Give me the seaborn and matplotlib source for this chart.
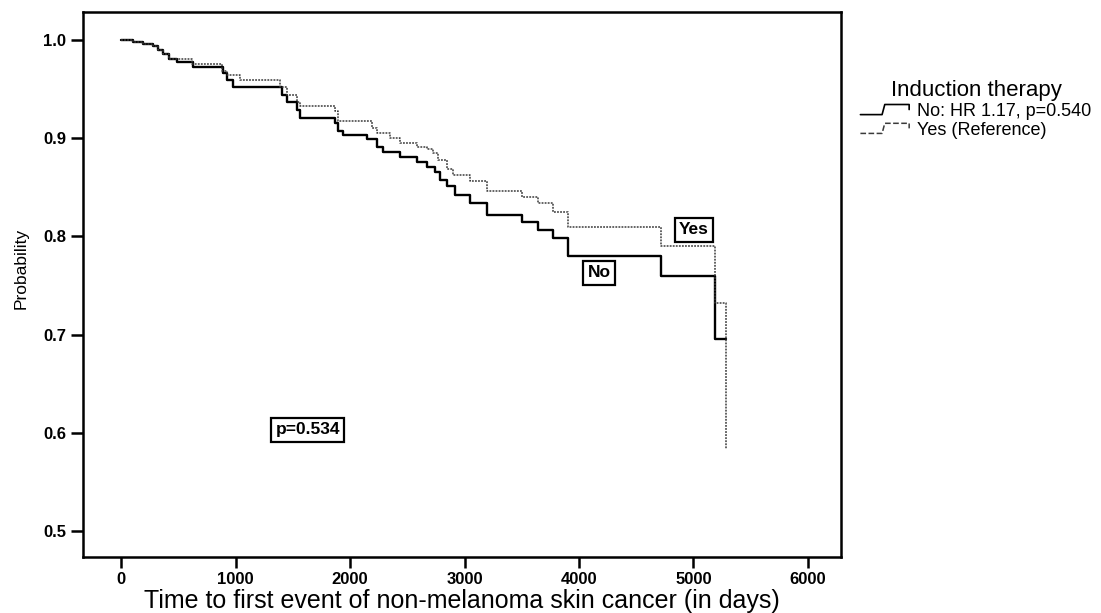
import numpy as np
import pandas as pd
import matplotlib
matplotlib.use('Agg')
import matplotlib.pyplot as plt
import seaborn as sns
from matplotlib.legend_handler import HandlerBase
from matplotlib.lines import Line2D

# Kaplan-Meier steps: day of the drop, survival after it
no_days = [0, 108, 195, 282, 326, 370, 420, 486, 632, 894, 923, 981, 1403, 1447,
           1534, 1563, 1869, 1898, 1942, 2146, 2233, 2291, 2437, 2582, 2670, 2742,
           2786, 2844, 2917, 3048, 3194, 3500, 3645, 3776, 3904, 4716, 5188, 5284]
no_surv = [1.000, 0.998, 0.996, 0.994, 0.990, 0.986, 0.981, 0.978, 0.973, 0.966,
           0.959, 0.952, 0.944, 0.937, 0.929, 0.921, 0.915, 0.907, 0.903, 0.899,
           0.891, 0.886, 0.881, 0.876, 0.871, 0.866, 0.857, 0.851, 0.842, 0.834,
           0.822, 0.815, 0.807, 0.798, 0.780, 0.760, 0.695, 0.695]

yes_days = [0, 108, 195, 282, 326, 370, 420, 617, 880, 923, 1040, 1389, 1447, 1534,
            1563, 1869, 1898, 2189, 2233, 2349, 2437, 2582, 2670, 2728, 2771, 2844,
            2902, 3048, 3194, 3500, 3645, 3776, 3904, 4716, 5188, 5284]
yes_surv = [1.000, 0.998, 0.996, 0.994, 0.990, 0.986, 0.981, 0.976, 0.968, 0.964,
            0.959, 0.952, 0.944, 0.937, 0.933, 0.928, 0.918, 0.910, 0.905, 0.900,
            0.895, 0.891, 0.889, 0.885, 0.878, 0.869, 0.863, 0.856, 0.846, 0.840,
            0.834, 0.825, 0.810, 0.790, 0.732, 0.583]

legend_labels = ['No: HR 1.17, p=0.540', 'Yes (Reference)']
x_ticks = [0, 1000, 2000, 3000, 4000, 5000, 6000]
y_ticks = [0.5, 0.6, 0.7, 0.8, 0.9, 1.0]


class StepHandler(HandlerBase):
    """Draw the little step-shaped legend key like the SPSS output"""
    def create_artists(self, legend, orig_handle, xdescent, ydescent,
                       width, height, fontsize, trans):
        xs = np.array([0.0, 0.4, 0.45, 0.5, 0.9, 0.9]) * width - xdescent
        ys = np.array([0.1, 0.1, 0.9, 0.9, 0.9, 0.5]) * height - ydescent
        line = Line2D(xs, ys, color=orig_handle.get_color(),
                      lw=orig_handle.get_linewidth(),
                      linestyle=orig_handle.get_linestyle())
        line.set_transform(trans)
        return [line]


def main():
    sns.set_style('ticks')
    plt.rcParams['font.family'] = ['Liberation Sans', 'DejaVu Sans']
    plt.rcParams['text.color'] = 'black'
    plt.rcParams['axes.labelcolor'] = 'black'

    km = pd.concat([
        pd.DataFrame({'days': no_days, 'surv': no_surv, 'group': 'No'}),
        pd.DataFrame({'days': yes_days, 'surv': yes_surv, 'group': 'Yes'}),
    ])

    fig = plt.figure(figsize=(11.01, 6.13), dpi=100)
    ax = fig.add_axes([0.0754, 0.0914, 0.688, 0.889])

    sns.lineplot(data=km[km['group'] == 'No'], x='days', y='surv', ax=ax,
                 color='black', lw=1.7, drawstyle='steps-post',
                 estimator=None, sort=True, legend=False)
    sns.lineplot(data=km[km['group'] == 'Yes'], x='days', y='surv', ax=ax,
                 color='#3a3a3a', lw=1.1, linestyle=(0, (1.2, 0.8)),
                 drawstyle='steps-post', estimator=None, sort=True, legend=False)

    ax.set_xlim(-332, 6284)
    ax.set_ylim(0.4735, 1.0285)
    ax.set_xticks(x_ticks)
    ax.set_yticks(y_ticks)
    ax.set_yticklabels([f'{v:.1f}' for v in y_ticks])
    ax.tick_params(axis='both', direction='out', width=1.8, colors='black',
                   labelsize=12, bottom=True, left=True, top=False, right=False)
    ax.tick_params(axis='x', length=8, pad=3)
    ax.tick_params(axis='y', length=9, pad=3)
    for lbl in ax.get_xticklabels() + ax.get_yticklabels():
        lbl.set_fontweight('bold')
    for side in ['left', 'bottom', 'top', 'right']:
        ax.spines[side].set_visible(True)
        ax.spines[side].set_color('black')
        ax.spines[side].set_linewidth(1.8)

    ax.set_xlabel('Time to first event of non-melanoma skin cancer (in days)',
                  fontsize=18, labelpad=1)
    ax.set_ylabel('Probability', fontsize=12.5)
    ax.yaxis.set_label_coords(-0.072, 0.53)

    box = dict(boxstyle='square,pad=0.25', fc='white', ec='black', lw=1.6)
    ax.text(5004, 0.8065, 'Yes', ha='center', va='center', fontsize=12.5,
            fontweight='bold', bbox=box)
    ax.text(4175, 0.763, 'No', ha='center', va='center', fontsize=12.5,
            fontweight='bold', bbox=box)
    ax.text(1630, 0.603, 'p=0.534', ha='center', va='center', fontsize=12.5,
            fontweight='bold', bbox=box)

    handles = [Line2D([], [], color='black', lw=1.2),
               Line2D([], [], color='#3a3a3a', lw=1.1, linestyle=(0, (1.2, 0.8)))]
    fig.legend(handles, legend_labels, title='Induction therapy',
               loc='upper left', bbox_to_anchor=(0.77, 0.89), frameon=False,
               handler_map={Line2D: StepHandler()}, fontsize=13,
               title_fontsize=16, handlelength=3.0, handletextpad=0.15,
               labelspacing=0.1, borderpad=0.2)

    fig.savefig('out.png', dpi=100)
    plt.close(fig)


if __name__ == '__main__':
    main()
